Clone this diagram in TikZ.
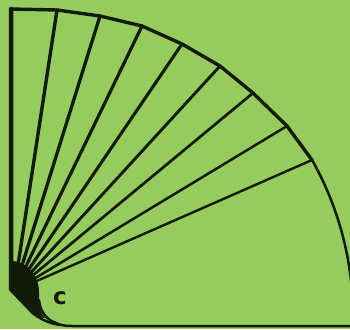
\documentclass[tikz,border=0pt]{standalone}
\usepackage{fontspec}
\newfontfamily\labelfont{DejaVu Sans}
\begin{document}
\begin{tikzpicture}[x=1pt,y=-1pt,line join=round,line cap=round]
\definecolor{bg}{RGB}{150,203,94}
\definecolor{ink}{RGB}{18,26,10}
\tikzset{
  edge/.style={draw=ink,line width=3.4pt},
  spoke/.style={draw=ink,line width=#1},
  thin/.style={draw=ink,line width=2.5pt}
}
\fill[bg] (0,0) rectangle (350,329);
\useasboundingbox (0,0) rectangle (350,329);
\coordinate (P) at (14,291);
\coordinate (c0) at (11,9);
\coordinate (c1) at (57,10);
\coordinate (c2) at (100,16);
\coordinate (c3) at (142,26);
\coordinate (c4) at (182,44);
\coordinate (c5) at (220,66);
\coordinate (c6) at (253,93);
\coordinate (c7) at (287,126);
\coordinate (c8) at (312,160);
% spokes
\draw[spoke=3.4pt] (c1) -- (P);
\draw[spoke=3.3pt] (c2) -- (P);
\draw[spoke=3.2pt] (c3) -- (P);
\draw[spoke=3.1pt] (c4) -- (P);
\draw[spoke=2.9pt] (c5) -- (P);
\draw[spoke=2.7pt] (c6) -- (P);
\draw[spoke=2.5pt] (c7) -- (P);
\draw[spoke=2.4pt] (c8) -- (P);
% top edge
\draw[edge] (c0) -- (c1) -- (c2) -- (c3) -- (c4) -- (c5) -- (c6) -- (c7) -- (c8);
% front card end arc
\draw[thin] plot[domain=-29.4:-2,samples=40,smooth] ({35+318*cos(\x)},{316+318*sin(\x)});
% left edge
\draw[draw=ink,line width=4.5pt] (c0) -- (11,289) -- (34,313);
% blob
\fill[ink] (11,261) .. controls (27,261) and (39,276) .. (39,292) -- (39,305) .. controls (40,311) and (42,315) .. (45,318) -- (36,317) -- (10,291) -- cycle;
% front card rounded end and bottom
\draw[thin] (39,300) .. controls (40,312) and (47,320) .. (56,323) .. controls (60,325) and (64,326) .. (72,326) -- (352,326);
\draw[thin] (33,313) .. controls (40,319) and (48,323) .. (60,325);
\node[text=ink,font=\labelfont\bfseries\fontsize{23}{23}\selectfont,inner sep=0pt] (c) at (60,298) {c};
\end{tikzpicture}
\end{document}
